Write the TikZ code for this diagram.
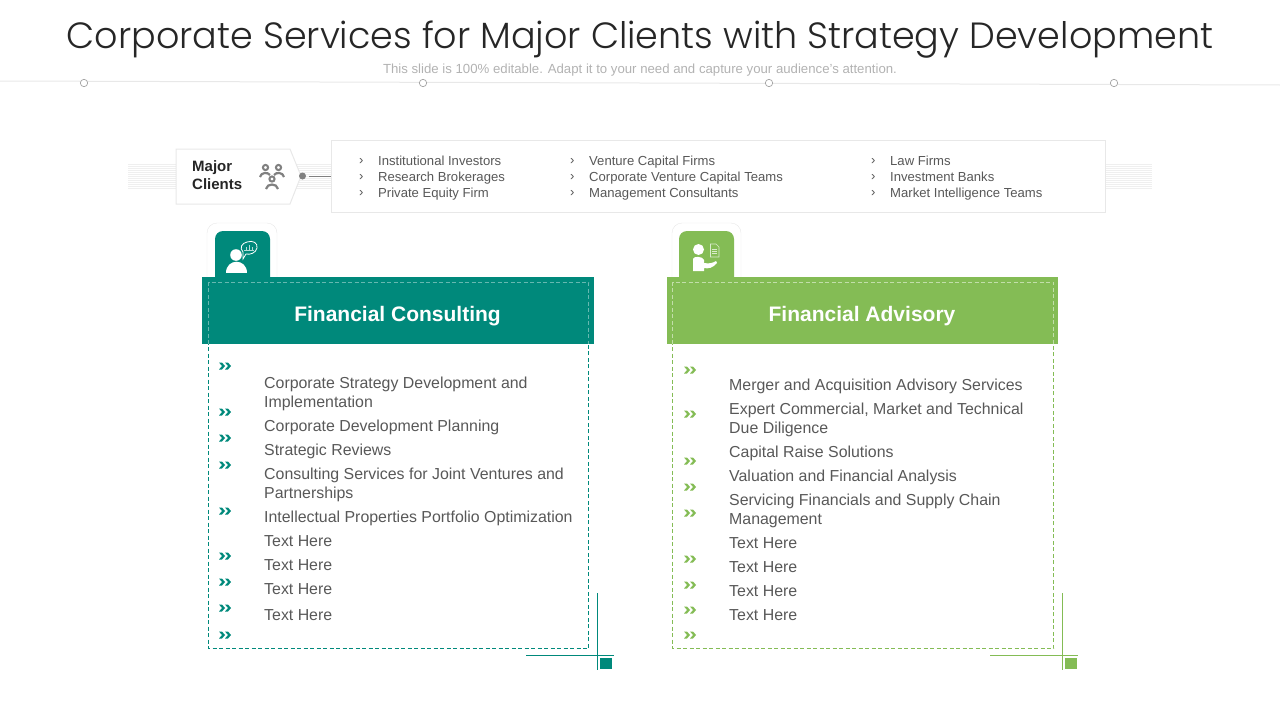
\documentclass[tikz,border=0pt]{standalone}
\usepackage{fontspec}
\setmainfont{Liberation Sans}
\newfontfamily\titlefont{Poppins Light}
\usepackage{tikz}
\definecolor{tealmain}{HTML}{00897B}
\definecolor{greenmain}{HTML}{84BC55}
\definecolor{bodygray}{HTML}{585858}
\definecolor{edgegray}{HTML}{E8E8E8}
\tikzstyle{body} = [anchor=base west,inner sep=0pt,text=bodygray,font=\fontsize{15.9}{19}\selectfont,align=left]
\tikzstyle{small} = [anchor=base west,inner sep=0pt,text=bodygray,font=\fontsize{13.1}{15}\selectfont]
\tikzstyle{head} = [anchor=base,text=white,font=\bfseries\fontsize{21}{24}\selectfont]
\tikzstyle{stripes} = [edgegray!70,line width=0.5]
\tikzstyle{tick} = [line width=1]
\newcommand{\chevs}[3]{% two small chevrons at x, y in colour
  \fill[#3] (#1,#2-3.5) -- ++(3,0) -- ++(3,3.5) -- ++(-3,3.5) -- ++(-3,0) -- ++(3,-3.5) -- cycle;
  \fill[#3] (#1+6,#2-3.5) -- ++(3,0) -- ++(3,3.5) -- ++(-3,3.5) -- ++(-3,0) -- ++(3,-3.5) -- cycle;
}
\begin{document}
\begin{tikzpicture}[x=1pt,y=-1pt]
    \useasboundingbox (0,0) rectangle (1280,720);

    % Title and subtitle
    \node[text=black!85,font=\titlefont\fontsize{36.5}{40}\selectfont] (title) at (640,40) {Corporate Services for Major Clients with Strategy Development};
    \node[text=black!30,font=\fontsize{13.2}{15}\selectfont] (subtitle) at (640,70.5) {This slide is 100\% editable. Adapt it to your need and capture your audience's attention.};

    % Thin line with four small rings
    \draw[edgegray,line width=1] (0,81) -- (1280,85);
    \foreach \xx/\yy in {84/83,423/83,769/83,1114/83}
        \draw[black!35,fill=white,line width=0.7] (\xx,\yy) circle [radius=3.7];

    % Stripes behind the client row
    \foreach \yy in {164,166,...,188} {
        \draw[stripes] (128,\yy) -- (176,\yy);
        \draw[stripes] (296,\yy) -- (331,\yy);
        \draw[stripes] (1105,\yy) -- (1152,\yy);
    }

    % Major clients tag
    \draw[edgegray,line width=1,fill=white] (176,149) -- (290,149) -- (301,176) -- (290,204) -- (176,204) -- cycle;
    \node[anchor=west,inner sep=0pt,align=left,text=black!85,font=\bfseries\fontsize{15}{18}\selectfont] (clients) at (192,175.5) {Major\\Clients};

    % People icon
    \begin{scope}[black!50]
        \draw[line width=2] (265.5,167.5) circle [radius=2.6];
        \draw[line width=2] (278.5,167.5) circle [radius=2.6];
        \draw[line width=2] (272,179) circle [radius=2.6];
        \draw[line width=2.2] (260,177) .. controls (261,172) and (268,172) .. (270,175);
        \draw[line width=2.2] (284,177) .. controls (283,172) and (276,172) .. (274,175);
        \draw[line width=2.2] (266,189) .. controls (267,183) and (277,183) .. (278,189);
    \end{scope}

    % Client list box and its connector
    \node[draw=edgegray,line width=1,fill=white,minimum width=774,minimum height=72,inner sep=0pt] (clientbox) at (718,176) {};
    \fill[black!50] (302.5,176) circle [radius=3.5];
    \coordinate (clientdot) at (309,176.5);
    \draw[black!50,line width=1] (clientdot) -- (clientbox.west |- clientdot);

    \node[small] (tick1) at (359,164.5) {›};
    \node[small] (tick2) at (359,180.5) {›};
    \node[small] (tick3) at (359,196.5) {›};
    \node[small] (tick4) at (570,164.5) {›};
    \node[small] (tick5) at (570,180.5) {›};
    \node[small] (tick6) at (570,196.5) {›};
    \node[small] (tick7) at (871,164.5) {›};
    \node[small] (tick8) at (871,180.5) {›};
    \node[small] (tick9) at (871,196.5) {›};

    \node[small] (client1) at (378,165) {Institutional Investors};
    \node[small] (client2) at (378,181) {Research Brokerages};
    \node[small] (client3) at (378,197) {Private Equity Firm};
    \node[small] (client4) at (589,165) {Venture Capital Firms};
    \node[small] (client5) at (589,181) {Corporate Venture Capital Teams};
    \node[small] (client6) at (589,197) {Management Consultants};
    \node[small] (client7) at (890,165) {Law Firms};
    \node[small] (client8) at (890,181) {Investment Banks};
    \node[small] (client9) at (890,197) {Market Intelligence Teams};

    % Left tab
    \draw[edgegray,fill=white,rounded corners=10] (207,277) -- (207,223) -- (277,223) -- (277,277);
    \fill[tealmain,rounded corners=8] (215,295) -- (215,231) -- (270,231) -- (270,295) -- cycle;
    \fill[white] (236,255) circle [radius=5.8];
    \fill[white] (226,273) .. controls (226,258) and (247,258) .. (247,273) -- cycle;
    \draw[white,line width=0.8] (247,242) .. controls (253,240) and (258,243) .. (257,248) .. controls (256,253) and (250,255) .. (246,254) -- (243,259) -- (243,252) .. controls (239,248) and (242,243) .. (247,242);
    \draw[white!70!tealmain,line width=0.6] (244,250) -- (254,250) (246,250) -- (246,247) (249,250) -- (249,245) (252,250) -- (252,247);

    % Right tab
    \draw[edgegray,fill=white,rounded corners=10] (672,277) -- (672,223) -- (741,223) -- (741,277);
    \fill[greenmain,rounded corners=8] (679,295) -- (679,231) -- (734,231) -- (734,295) -- cycle;
    \fill[white] (698.5,249.5) circle [radius=5.5];
    \fill[white] (693,271) -- (693,259) .. controls (693,256) and (703,256) .. (704,260) -- (704,263) .. controls (709,264) and (713,263) .. (716,261) -- (717,263) .. controls (713,268) and (708,269) .. (704,268) -- (704,271) -- cycle;
    \draw[white!70!greenmain,line width=0.6] (710.5,244) -- (716,244) -- (719,247) -- (719,257) -- (710.5,257) -- cycle;
    \draw[white!70!greenmain,line width=0.5] (712,249) -- (717,249) (712,251) -- (717,251) (712,253) -- (717,253);

    % Dashed frames
    \draw[tealmain,line width=0.8,dash pattern=on 4pt off 2.5pt] (208.5,282) rectangle (588.5,648.5);
    \draw[greenmain,line width=0.8,dash pattern=on 4pt off 2.5pt] (672.5,282) rectangle (1053.5,648.5);

    % Header bands
    \node[fill=tealmain,minimum width=392,minimum height=67,inner sep=0pt] (consultband) at (398,310.5) {};
    \node[fill=greenmain,minimum width=391,minimum height=67,inner sep=0pt] (advisoryband) at (862.5,310.5) {};
    \node[head] (consulting) at (397.5,321) {Financial Consulting};
    \node[head] (advisory) at (862,321) {Financial Advisory};
    \draw[white!40!tealmain,dash pattern=on 4pt off 2.5pt,line width=0.8] (208.5,344) -- (208.5,282) -- (588.5,282) -- (588.5,344);
    \draw[white!50!greenmain,dash pattern=on 4pt off 2.5pt,line width=0.8] (672.5,344) -- (672.5,282) -- (1053.5,282) -- (1053.5,344);

    % Left list
    \foreach \yy in {366,412,438,465,511,556,582,608,635} {
        \chevs{219}{\yy}{tealmain}
    }
    \node[body] (cons1) at (264,407.5) {Corporate Strategy Development and\\Implementation};
    \node[body] (cons2) at (264,431.5) {Corporate Development Planning};
    \node[body] (cons3) at (264,455.5) {Strategic Reviews};
    \node[body] (cons4) at (264,498.5) {Consulting Services for Joint Ventures and\\Partnerships};
    \node[body] (cons5) at (264,522.5) {Intellectual Properties Portfolio Optimization};
    \node[body] (cons6) at (264,546.5) {Text Here};
    \node[body] (cons7) at (264,570.5) {Text Here};
    \node[body] (cons8) at (264,594.5) {Text Here};
    \node[body] (cons9) at (264,620.5) {Text Here};

    % Right list
    \foreach \yy in {370,414,461,487,513,559,585,610,635} {
        \chevs{684}{\yy}{greenmain}
    }
    \node[body] (adv1) at (729,390.5) {Merger and Acquisition Advisory Services};
    \node[body] (adv2) at (729,433.5) {Expert Commercial, Market and Technical\\Due Diligence};
    \node[body] (adv3) at (729,457.5) {Capital Raise Solutions};
    \node[body] (adv4) at (729,481.5) {Valuation and Financial Analysis};
    \node[body] (adv5) at (729,524.5) {Servicing Financials and Supply Chain\\Management};
    \node[body] (adv6) at (729,548.5) {Text Here};
    \node[body] (adv7) at (729,572.5) {Text Here};
    \node[body] (adv8) at (729,596.5) {Text Here};
    \node[body] (adv9) at (729,620.5) {Text Here};

    % Corner marks
    \draw[tealmain,tick] (597.5,593) -- (597.5,670);
    \draw[tealmain,tick] (526,655.5) -- (614,655.5);
    \fill[tealmain] (600,658) rectangle (612,669);
    \draw[greenmain,tick] (1062.5,593) -- (1062.5,670);
    \draw[greenmain,tick] (990,655.5) -- (1078,655.5);
    \fill[greenmain] (1065,658) rectangle (1077,669);

\end{tikzpicture}
\end{document}
